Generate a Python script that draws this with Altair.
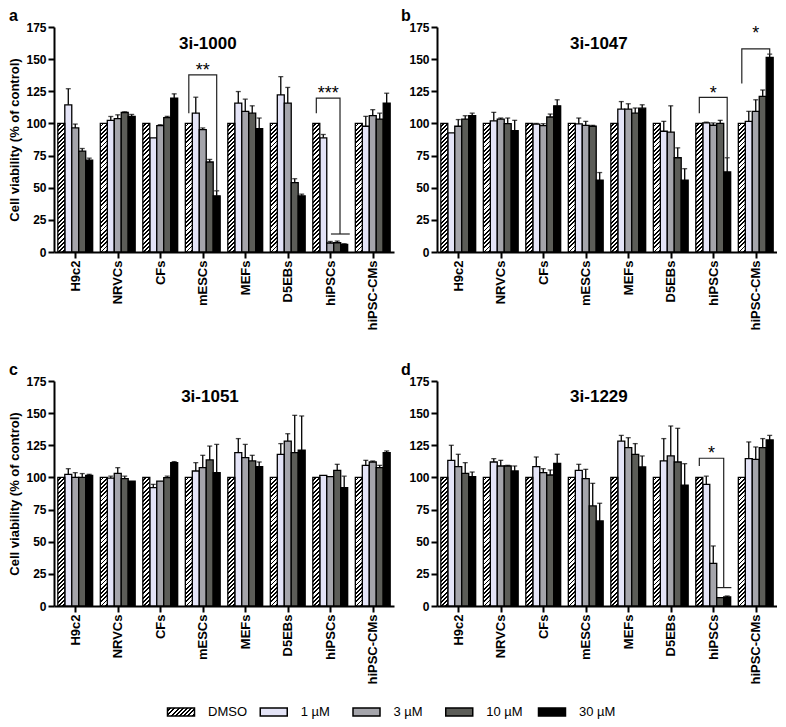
import altair as alt
import pandas as pd

FONT = "Liberation Sans"
GROUPS = ["H9c2", "NRVCs", "CFs", "mESCs", "MEFs", "D5EBs", "hiPSCs", "hiPSC-CMs"]
CONCS = ["DMSO", "1 µM", "3 µM", "10 µM", "30 µM"]
COLORS = ["#ffffff", "#e4e4f7", "#a5a5ab", "#5c5d58", "#000000"]

# mean viability per group (rows) and concentration (DMSO, 1, 3, 10, 30 µM)
a_mean = [[100, 114.5, 96.5, 78.5, 71.5], [100, 102.4, 103.7, 108.5, 105.5], [100, 88.8, 98.3, 104.5, 119.7],
          [100, 108, 95.2, 70, 43.7], [100, 115.8, 109.4, 108, 96], [100, 122.2, 115.8, 54, 43.7],
          [100, 88.8, 7, 7.2, 5.9], [100, 97.8, 106, 103.4, 115.8]]
a_err = [[0, 12.5, 3, 2, 1.5], [0, 3, 3, 0.5, 1.5], [0, 0, 0.7, 1, 3.3], [0, 12.4, 1.3, 2, 3.9],
         [0, 9, 9.5, 5.7, 8.2], [0, 14.2, 12.2, 3, 1.3], [0, 2.6, 1.2, 1.3, 0.5], [0, 7.7, 4.7, 4.6, 7.7]]
b_mean = [[100, 92.6, 97.8, 103.4, 106], [100, 102, 103.4, 99.8, 94.4], [100, 99.5, 98.3, 105, 113.7],
          [100, 99.6, 98.5, 97.8, 55.8], [100, 111.2, 111.2, 108, 111.9], [100, 93.9, 93.2, 73.3, 55.8],
          [100, 100.5, 98.6, 100, 62.3], [100, 101.6, 109.4, 121, 151.3]]
b_err = [[0, 0, 5.2, 2.6, 2], [0, 6.6, 0.8, 4.4, 8], [0, 0.5, 1.5, 2.3, 4.7], [0, 4.6, 3.1, 0.7, 6],
         [0, 5.8, 4.1, 4, 2.6], [0, 7.7, 20.5, 7.7, 9], [0, 0.5, 1.8, 2.4, 11], [0, 7.8, 9, 5, 2.6]]
c_mean = [[100, 102.4, 100, 100, 101.6], [100, 99.5, 103.2, 99, 97.2], [100, 92, 97.2, 99.8, 111.5],
          [100, 105, 107.6, 113.6, 103.7], [100, 119.3, 115.4, 112.8, 108.4], [100, 118, 128.3, 119.3, 121.3],
          [100, 101.6, 100.6, 105.5, 92], [100, 109.4, 112, 107.6, 119.3]]
c_err = [[0, 4.4, 3.7, 3, 0.8], [0, 1.5, 4.4, 2, 0], [0, 2.6, 0, 1.2, 0.8], [0, 6.5, 9.6, 10.8, 22],
         [0, 10.9, 10.3, 4.4, 3.6], [0, 8.3, 5.7, 29, 26.5], [0, 0, 0, 4.7, 9], [0, 3.9, 0.8, 1.8, 1.3]]
d_mean = [[100, 113.3, 108.4, 103.2, 100.6], [100, 112, 108.9, 108.9, 105], [100, 108.4, 103.7, 101.9, 111],
          [100, 105.5, 99, 77.8, 66.1], [100, 128.3, 123.2, 118, 108.1], [100, 112.8, 116.7, 112, 93.9],
          [100, 94.6, 33.2, 6.5, 7], [100, 114.6, 114, 123.2, 129.1]]
d_err = [[0, 11.7, 9.6, 8.3, 3.6], [0, 2.6, 4.4, 0.5, 3.9], [0, 7.5, 3.1, 3.9, 7], [0, 4.7, 7.3, 17.6, 13.8],
         [0, 4.4, 7.7, 8.3, 8.6], [0, 17.4, 23.3, 26.2, 16.8], [0, 6.4, 13.5, 0, 0.8], [0, 13, 9.7, 7, 3.6]]

# significance brackets: group index, concentration-index path, y path
a_brk_group = [3, 6, 6]
a_brk_ci = [[0, 0, 4, 4], [0, 0, 3.4, 3.4], [2.1, 4.8]]
a_brk_y = [[108, 137.7, 137.7, 47.6], [108, 119.7, 119.7, 14], [14, 14]]
a_star_group = [3, 6]
a_star_ci = [2, 1.7]
a_star_y = [144.6, 126.7]
a_star_txt = ["**", "***"]

b_brk_group = [6, 7]
b_brk_ci = [[0, 0, 4, 4], [0, 0, 4, 4]]
b_brk_y = [[108, 120.2, 120.2, 73.3], [131, 158, 158, 154]]
b_star_group = [6, 7]
b_star_ci = [2, 2]
b_star_y = [127.1, 173.4]
b_star_txt = ["*", "*"]

d_brk_group = [6, 6]
d_brk_ci = [[0, 0, 3.5, 3.5], [2.5, 4.6]]
d_brk_y = [[108.9, 114.9, 114.9, 14.3], [14.3, 14.3]]
d_star_group = [6]
d_star_ci = [1.75]
d_star_y = [122]
d_star_txt = ["*"]

W, H = 340, 225
BW = 0.164  # bar width in group units
BAR_PX = BW * W / 8.0
H100_PX = 100 * H / 175.0


def hatch(w, h, period):
    a = w / h
    s = (a + 1) / (a * a + 1)
    dt = period / (h * (a + 1))
    stops = []
    k = 0
    while k * dt < 1:
        st = k * dt
        mid = min(st + dt * 0.55, 1)
        en = min(st + dt, 1)
        stops += [{"offset": round(st, 4), "color": "white"}, {"offset": round(mid, 4), "color": "white"},
                  {"offset": round(mid, 4), "color": "black"}, {"offset": round(en, 4), "color": "black"}]
        k += 1
    return {"gradient": "linear", "x1": 0, "y1": 0, "x2": a * s, "y2": s, "stops": stops}


HATCH_BAR = hatch(BAR_PX, H100_PX, 4.2)
HATCH_LEG = hatch(27, 8.1, 4.2)

LABEL_EXPR = "[" + ",".join("'" + g + "'" for g in GROUPS) + "][datum.value]"

XS = alt.Scale(domain=[-0.5, 7.5], nice=False, zero=False)
YS = alt.Scale(domain=[0, 175], nice=False, zero=True)


def pos(g, ci):
    return g + (ci - 2) * BW


def panel(letter, letter_dx, title_txt, tx, ty, mean, err, brk_group, brk_ci, brk_y,
          star_group, star_ci, star_y, star_txt, ytitle):
    rows = []
    for gi, g in enumerate(GROUPS):
        for ci, c in enumerate(CONCS):
            p = pos(gi, ci)
            rows.append(dict(group=g, conc=c, x0=p - BW / 2, x1=p + BW / 2, xc=p, base=0,
                             mean=mean[gi][ci], err=err[gi][ci], top=mean[gi][ci] + err[gi][ci]))
    df = pd.DataFrame(rows)
    xaxis = alt.Axis(values=list(range(8)), labelExpr=LABEL_EXPR, title=None, labelAngle=-90,
                     labelAlign="right", labelBaseline="middle", labelOverlap=False, labelFlush=False,
                     labelPadding=2)
    yaxis = alt.Axis(values=list(range(0, 176, 25)), title=ytitle, labelFlush=False, labelOverlap=False)

    def X(f):
        return alt.X(f, scale=XS, axis=xaxis)

    def Y(f):
        return alt.Y(f, scale=YS, axis=yaxis)

    bars = alt.Chart(df).transform_filter(alt.datum.conc != "DMSO").mark_rect(
        stroke="black", strokeWidth=1.3).encode(
        x=X("x0:Q"), x2="x1:Q", y=Y("mean:Q"), y2="base:Q",
        fill=alt.Fill("conc:N", scale=alt.Scale(domain=CONCS, range=COLORS), legend=None))
    dmso = alt.Chart(df).transform_filter(alt.datum.conc == "DMSO").mark_rect(
        fill=HATCH_BAR, stroke="black", strokeWidth=1.3).encode(
        x=X("x0:Q"), x2="x1:Q", y=Y("mean:Q"), y2="base:Q")
    edf = df[df.err > 0]
    rules = alt.Chart(edf).mark_rule(color="black", strokeWidth=1.3).encode(
        x=X("xc:Q"), y=Y("mean:Q"), y2="top:Q")
    caps = alt.Chart(edf).mark_tick(color="black", orient="horizontal", size=5, thickness=1.3).encode(
        x=X("xc:Q"), y=Y("top:Q"))
    layers = [bars, dmso, rules, caps]

    if brk_group:
        brows = []
        for i, g in enumerate(brk_group):
            for k, (ci, yv) in enumerate(zip(brk_ci[i], brk_y[i])):
                brows.append(dict(id=i, k=k, x=pos(g, ci), y=yv))
        bdf = pd.DataFrame(brows)
        layers.append(alt.Chart(bdf).mark_line(color="#222222", strokeWidth=1.2).encode(
            x=X("x:Q"), y=Y("y:Q"), detail="id:N", order="k:Q"))
        sdf = pd.DataFrame(dict(x=[pos(g, c) for g, c in zip(star_group, star_ci)], y=star_y, t=star_txt))
        layers.append(alt.Chart(sdf).mark_text(font=FONT, fontSize=18, baseline="middle", dy=5,
                                              color="black").encode(
            x=X("x:Q"), y=Y("y:Q"), text="t:N"))

    tdf = pd.DataFrame(dict(x=[tx], y=[ty], t=[title_txt]))
    layers.append(alt.Chart(tdf).mark_text(font=FONT, fontSize=17, fontWeight="bold", baseline="middle",
                                          color="black").encode(
        x=X("x:Q"), y=Y("y:Q"), text="t:N"))

    return alt.layer(*layers).properties(
        width=W, height=H,
        title=alt.TitleParams(letter, anchor="start", frame="bounds", fontSize=16, fontWeight="bold",
                              font=FONT, offset=-3, dx=letter_dx, color="black"))


YT = "Cell viability (% of control)"
pa = panel("a", 0, "3i-1000", 3.12, 162, a_mean, a_err, a_brk_group, a_brk_ci, a_brk_y,
           a_star_group, a_star_ci, a_star_y, a_star_txt, YT)
pb = panel("b", -8, "3i-1047", 3.31, 162, b_mean, b_err, b_brk_group, b_brk_ci, b_brk_y,
           b_star_group, b_star_ci, b_star_y, b_star_txt, None)
pc = panel("c", 0, "3i-1051", 3.17, 162.5, c_mean, c_err, [], [], [], [], [], [], [], YT)
pd_ = panel("d", -8, "3i-1229", 3.31, 162.5, d_mean, d_err, d_brk_group, d_brk_ci, d_brk_y,
            d_star_group, d_star_ci, d_star_y, d_star_txt, None)

# legend
RECT_PATH = "M-1,-0.3H1V0.3H-1Z"
leg_df = pd.DataFrame({"conc": CONCS})
LX = alt.X("conc:N", scale=alt.Scale(domain=CONCS, type="point", padding=0, range=[127, 498]), axis=None)
sw = alt.Chart(leg_df).transform_filter(alt.datum.conc != "DMSO").mark_point(
    shape=RECT_PATH, size=729, filled=True, opacity=1, stroke="black", strokeWidth=1.5).encode(
    x=LX, y=alt.value(6),
    fill=alt.Fill("conc:N", scale=alt.Scale(domain=CONCS, range=COLORS), legend=None))
sw_d = alt.Chart(leg_df).transform_filter(alt.datum.conc == "DMSO").mark_point(
    shape=RECT_PATH, size=729, filled=True, opacity=1, fill=HATCH_LEG, stroke="black", strokeWidth=1.5).encode(
    x=LX, y=alt.value(6))
lt = alt.Chart(leg_df).mark_text(font=FONT, fontSize=13, align="left", baseline="middle", dx=27,
                                 color="black").encode(x=LX, y=alt.value(6), text="conc:N")
legend = alt.layer(sw, sw_d, lt).properties(width=700, height=12)

top = alt.hconcat(pa, pb, spacing=6)
mid = alt.hconcat(pc, pd_, spacing=6)
body = alt.vconcat(top, mid, spacing=31)
chart = alt.vconcat(body, legend, spacing=19).properties(padding=0).configure(
    font=FONT
).configure_view(strokeWidth=0).configure_axis(
    domainColor="black", domainWidth=2, tickColor="black", tickWidth=2, tickSize=6,
    labelFont=FONT, labelFontWeight="bold", labelColor="black", grid=False,
    titleFont=FONT, titleColor="black"
).configure_axisX(labelFontSize=13).configure_axisY(
    labelFontSize=12, titleFontSize=13, titleFontWeight="bold", titlePadding=4, labelPadding=2)

chart.save("out.html", embed_options={"renderer": "svg", "actions": False})
